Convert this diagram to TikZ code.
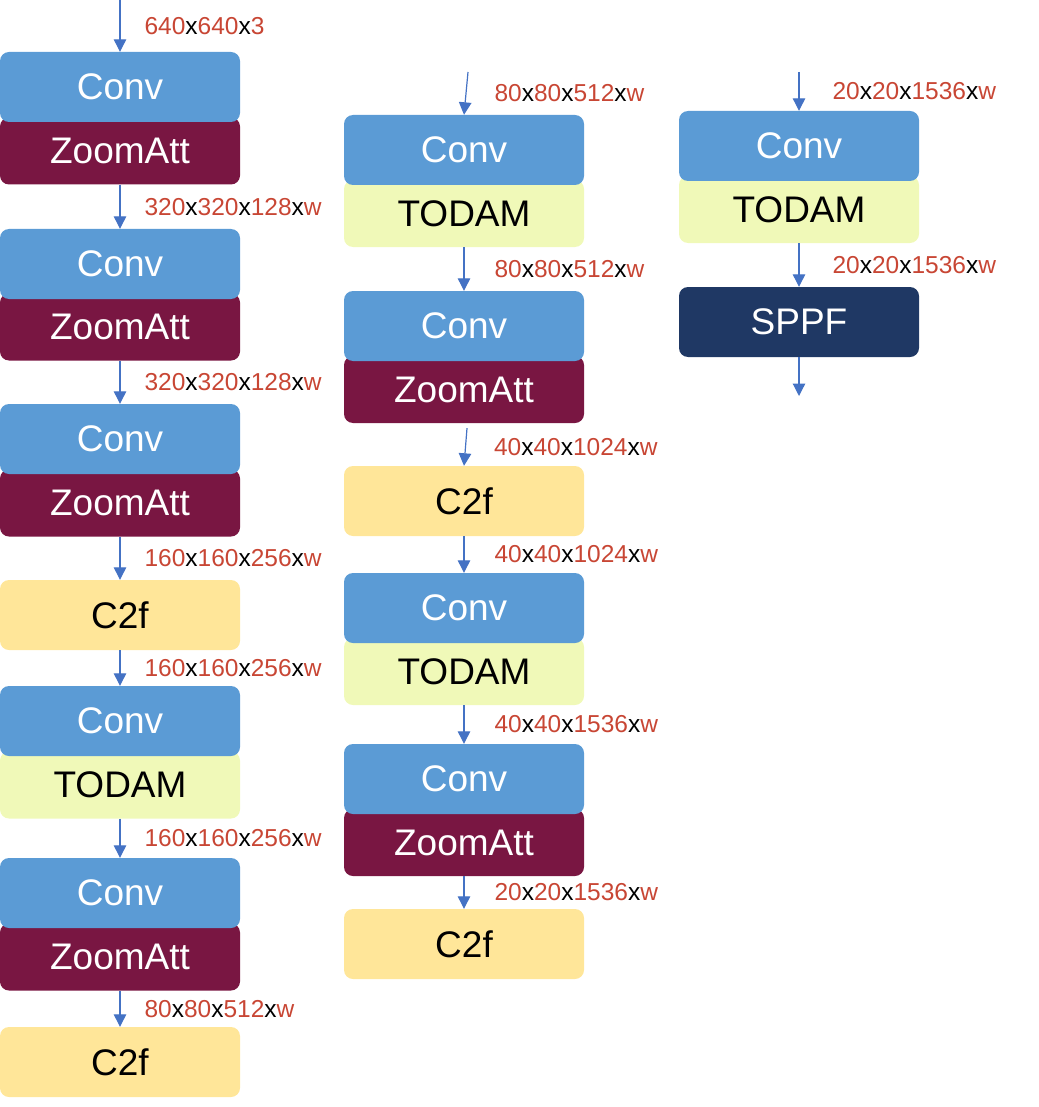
\documentclass[tikz,border=0pt]{standalone}
\usepackage{fontspec}
\setmainfont{Liberation Sans}
\usetikzlibrary{arrows.meta, positioning}

\definecolor{convblue}{RGB}{91,155,213}
\definecolor{attred}{RGB}{121,22,66}
\definecolor{todamgreen}{RGB}{240,249,184}
\definecolor{ctwofyellow}{RGB}{255,230,153}
\definecolor{sppfnavy}{RGB}{31,56,100}
\definecolor{numred}{RGB}{200,70,52}
\definecolor{arrowblue}{RGB}{68,114,196}

\newcommand{\shp}[3]{\textcolor{numred}{#1}x\textcolor{numred}{#2}x\textcolor{numred}{#3}}
\newcommand{\shpw}[3]{\shp{#1}{#2}{#3}x\textcolor{numred}{w}}

\begin{document}
\begin{tikzpicture}[
  x=1pt, y=-1pt,
  block/.style={rectangle, rounded corners=9pt, minimum width=240pt, minimum height=70pt, inner sep=0pt, font=\fontsize{37}{40}\selectfont},
  conv/.style={block, fill=convblue, text=white},
  zoomatt/.style={block, minimum height=67pt, fill=attred, text=white},
  todam/.style={block, minimum height=67pt, fill=todamgreen, text=black},
  ctwof/.style={block, fill=ctwofyellow, text=black},
  sppf/.style={block, fill=sppfnavy, text=white},
  arrow/.style={-{Triangle[length=12.5pt, width=12.5pt]}, arrowblue, line width=1.2pt},
  lbl/.style={midway, anchor=west, inner sep=0pt, xshift=#1, text=black, font=\fontsize{24.5}{28}\selectfont},
  lbl/.default=24pt
]
\useasboundingbox (0,0) rectangle (1038,1107);

% first column
\coordinate (inA) at (120,0);
\node (attA1) [zoomatt] at (120,151) {ZoomAtt};
\node (convA1) [conv] at (120,87) {Conv};
\node (attA2) [zoomatt] at (120,327) {ZoomAtt};
\node (convA2) [conv] at (120,264) {Conv};
\node (attA3) [zoomatt] at (120,503) {ZoomAtt};
\node (convA3) [conv] at (120,439) {Conv};
\node (c2fA1) [ctwof] at (120,615) {C2f};
\node (todA4) [todam] at (120,785) {TODAM};
\node (convA4) [conv] at (120,721) {Conv};
\node (attA5) [zoomatt] at (120,957) {ZoomAtt};
\node (convA5) [conv] at (120,893) {Conv};
\node (c2fA2) [ctwof] at (120,1062) {C2f};

\draw [arrow] (inA) -- node[lbl] {\shp{640}{640}{3}} (convA1);
\draw [arrow] (attA1) -- node[lbl] {\shpw{320}{320}{128}} (convA2);
\draw [arrow] (attA2) -- node[lbl] {\shpw{320}{320}{128}} (convA3);
\draw [arrow] (attA3) -- node[lbl] {\shpw{160}{160}{256}} (c2fA1);
\draw [arrow] (c2fA1) -- node[lbl] {\shpw{160}{160}{256}} (convA4);
\draw [arrow] (todA4) -- node[lbl] {\shpw{160}{160}{256}} (convA5);
\draw [arrow] (attA5) -- node[lbl] {\shpw{80}{80}{512}} (c2fA2);

% second column
\coordinate (inB) at (468,72);
\node (todB1) [todam] at (464,213.5) {TODAM};
\node (convB1) [conv] at (464,150) {Conv};
\node (attB2) [zoomatt] at (464,389.5) {ZoomAtt};
\node (convB2) [conv] at (464,326) {Conv};
\node (c2fB1) [ctwof] at (464,501) {C2f};
\node (todB3) [todam] at (464,671.5) {TODAM};
\node (convB3) [conv] at (464,608) {Conv};
\node (attB4) [zoomatt] at (464,842.5) {ZoomAtt};
\node (convB4) [conv] at (464,779) {Conv};
\node (c2fB2) [ctwof] at (464,944) {C2f};

\draw [arrow] (inB) -- node[lbl=28pt] {\shpw{80}{80}{512}} (convB1.north);
\draw [arrow] (todB1) -- node[lbl=30pt] {\shpw{80}{80}{512}} (convB2);
\draw [arrow] ([xshift=3pt, yshift=-5pt]attB2.south) -- node[lbl=28pt] {\shpw{40}{40}{1024}} (c2fB1.north);
\draw [arrow] (c2fB1) -- node[lbl=30pt] {\shpw{40}{40}{1024}} (convB3);
\draw [arrow] (todB3) -- node[lbl=30pt] {\shpw{40}{40}{1536}} (convB4);
\draw [arrow] (attB4) -- node[lbl=30pt] {\shpw{20}{20}{1536}} (c2fB2);

% third column
\coordinate (inC) at (799,72);
\node (todC1) [todam] at (799,209.5) {TODAM};
\node (convC1) [conv] at (799,146) {Conv};
\node (sppfC) [sppf] at (799,322) {SPPF};
\coordinate (outC) at (799,396);

\draw [arrow] (inC) -- node[lbl=33pt] {\shpw{20}{20}{1536}} (convC1);
\draw [arrow] (todC1) -- node[lbl=33pt] {\shpw{20}{20}{1536}} (sppfC);
\draw [arrow] (sppfC) -- (outC);

\end{tikzpicture}
\end{document}
